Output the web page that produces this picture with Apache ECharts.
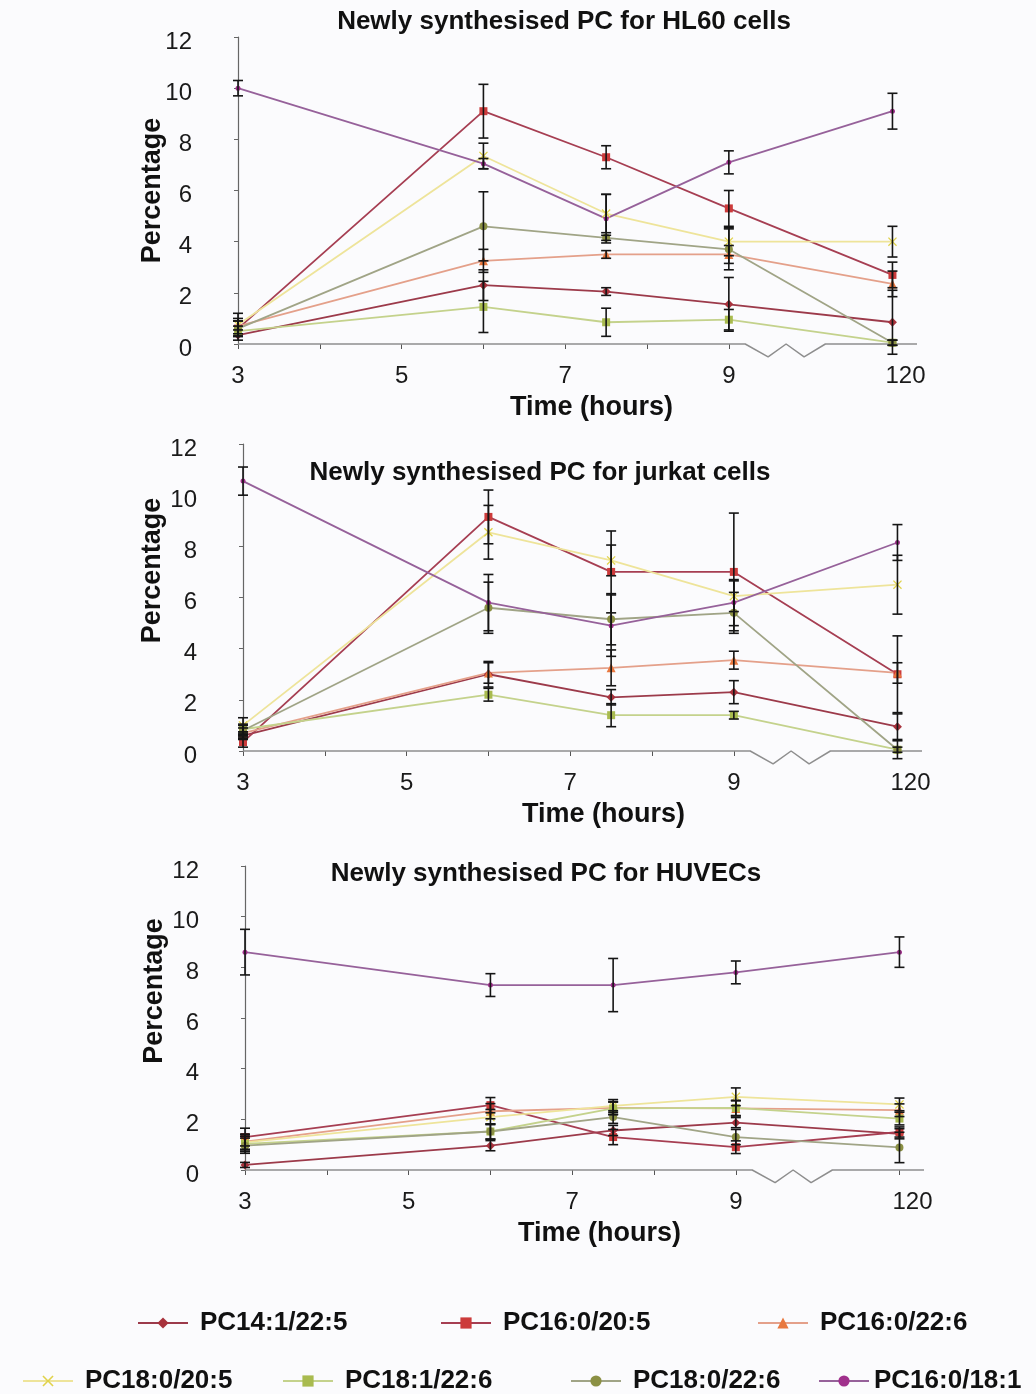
<!DOCTYPE html>
<html>
<head>
<meta charset="utf-8">
<script src="https://cdn.jsdelivr.net/npm/echarts@6/dist/echarts.min.js"></script>
<style>
  html, body { margin: 0; padding: 0; background: #fbfbfd; }
  #chart { width: 1036px; height: 1394px; }
</style>
</head>
<body>
<div id="chart"></div>
<script>
// Sampling times (hours); 120 h sits after the axis break
const times = [3, 6, 7.5, 9, 120];
const xTickValues = [3, 4, 5, 6, 7, 8, 9, 11];
const xLabelValues = [3, 5, 7, 9, 11];
const seriesNames = ['PC14:1/22:5', 'PC16:0/20:5', 'PC16:0/22:6', 'PC18:0/20:5', 'PC18:1/22:6', 'PC18:0/22:6', 'PC16:0/18:1'];
const panelTitles = ['Newly synthesised PC for HL60 cells', 'Newly synthesised PC for jurkat cells', 'Newly synthesised PC for HUVECs'];

// HL60 cells: mean % and error (±)
const hl60_PC14_1_22_5 = [0.35, 2.3, 2.05, 1.55, 0.85];
const hl60_PC16_0_20_5 = [0.6, 9.1, 7.3, 5.3, 2.7];
const hl60_PC16_0_22_6 = [0.7, 3.25, 3.5, 3.5, 2.35];
const hl60_PC18_0_20_5 = [0.75, 7.35, 5.1, 4.0, 4.0];
const hl60_PC18_1_22_6 = [0.5, 1.45, 0.85, 0.95, 0.05];
const hl60_PC18_0_22_6 = [0.6, 4.6, 4.15, 3.7, 0.05];
const hl60_PC16_0_18_1 = [10.0, 7.05, 4.9, 7.1, 9.1];
const hl60Err_PC14_1_22_5 = [0.2, 0.6, 0.15, 1.05, 1.25];
const hl60Err_PC16_0_20_5 = [0.3, 1.05, 0.45, 0.7, 0.5];
const hl60Err_PC16_0_22_6 = [0.3, 0.45, 0.15, 0.35, 0.5];
const hl60Err_PC18_0_20_5 = [0.45, 0.5, 0.75, 0.55, 0.6];
const hl60Err_PC18_1_22_6 = [0.2, 1.0, 0.55, 0.4, 0.1];
const hl60Err_PC18_0_22_6 = [0.3, 1.35, 0.1, 0.8, 0.1];
const hl60Err_PC16_0_18_1 = [0.3, 0.2, 0.95, 0.45, 0.7];

// Jurkat cells
const jurkat_PC14_1_22_5 = [0.6, 3.0, 2.1, 2.3, 0.95];
const jurkat_PC16_0_20_5 = [0.35, 9.15, 7.0, 7.0, 3.0];
const jurkat_PC16_0_22_6 = [0.7, 3.05, 3.25, 3.55, 3.05];
const jurkat_PC18_0_20_5 = [1.0, 8.55, 7.45, 6.05, 6.5];
const jurkat_PC18_1_22_6 = [0.85, 2.2, 1.4, 1.4, 0.05];
const jurkat_PC18_0_22_6 = [0.8, 5.6, 5.15, 5.4, 0.05];
const jurkat_PC16_0_18_1 = [10.55, 5.8, 4.9, 5.8, 8.15];
const jurkatErr_PC14_1_22_5 = [0.15, 0.5, 0.3, 0.45, 0.5];
const jurkatErr_PC16_0_20_5 = [0.2, 1.05, 1.6, 2.3, 1.5];
const jurkatErr_PC16_0_22_6 = [0.2, 0.4, 0.7, 0.35, 0.4];
const jurkatErr_PC18_0_20_5 = [0.3, 1.05, 0.6, 0.6, 1.15];
const jurkatErr_PC18_1_22_6 = [0.2, 0.25, 0.45, 0.15, 0.1];
const jurkatErr_PC18_0_22_6 = [0.2, 1.0, 1.0, 0.8, 0.35];
const jurkatErr_PC16_0_18_1 = [0.55, 1.1, 1.2, 0.9, 0.7];

// HUVECs
const huvec_PC14_1_22_5 = [0.2, 0.96, 1.56, 1.87, 1.43];
const huvec_PC16_0_20_5 = [1.3, 2.56, 1.3, 0.9, 1.5];
const huvec_PC16_0_22_6 = [1.12, 2.32, 2.45, 2.43, 2.36];
const huvec_PC18_0_20_5 = [1.09, 2.09, 2.53, 2.89, 2.59];
const huvec_PC18_1_22_6 = [1.03, 1.52, 2.43, 2.45, 2.03];
const huvec_PC18_0_22_6 = [0.96, 1.52, 2.09, 1.3, 0.89];
const huvec_PC16_0_18_1 = [8.6, 7.3, 7.3, 7.8, 8.6];
const huvecErr_PC14_1_22_5 = [0.1, 0.2, 0.2, 0.2, 0.2];
const huvecErr_PC16_0_20_5 = [0.35, 0.3, 0.3, 0.25, 0.2];
const huvecErr_PC16_0_22_6 = [0.3, 0.3, 0.25, 0.3, 0.25];
const huvecErr_PC18_0_20_5 = [0.3, 0.3, 0.25, 0.35, 0.25];
const huvecErr_PC18_1_22_6 = [0.3, 0.3, 0.25, 0.3, 0.25];
const huvecErr_PC18_0_22_6 = [0.3, 0.3, 0.25, 0.3, 0.6];
const huvecErr_PC16_0_18_1 = [0.9, 0.45, 1.05, 0.45, 0.6];

const panels = [
  { values: [hl60_PC14_1_22_5, hl60_PC16_0_20_5, hl60_PC16_0_22_6, hl60_PC18_0_20_5, hl60_PC18_1_22_6, hl60_PC18_0_22_6, hl60_PC16_0_18_1],
    errors: [hl60Err_PC14_1_22_5, hl60Err_PC16_0_20_5, hl60Err_PC16_0_22_6, hl60Err_PC18_0_20_5, hl60Err_PC18_1_22_6, hl60Err_PC18_0_22_6, hl60Err_PC16_0_18_1] },
  { values: [jurkat_PC14_1_22_5, jurkat_PC16_0_20_5, jurkat_PC16_0_22_6, jurkat_PC18_0_20_5, jurkat_PC18_1_22_6, jurkat_PC18_0_22_6, jurkat_PC16_0_18_1],
    errors: [jurkatErr_PC14_1_22_5, jurkatErr_PC16_0_20_5, jurkatErr_PC16_0_22_6, jurkatErr_PC18_0_20_5, jurkatErr_PC18_1_22_6, jurkatErr_PC18_0_22_6, jurkatErr_PC16_0_18_1] },
  { values: [huvec_PC14_1_22_5, huvec_PC16_0_20_5, huvec_PC16_0_22_6, huvec_PC18_0_20_5, huvec_PC18_1_22_6, huvec_PC18_0_22_6, huvec_PC16_0_18_1],
    errors: [huvecErr_PC14_1_22_5, huvecErr_PC16_0_20_5, huvecErr_PC16_0_22_6, huvecErr_PC18_0_20_5, huvecErr_PC18_1_22_6, huvecErr_PC18_0_22_6, huvecErr_PC16_0_18_1] }
];

// Broken time axis: the 120 h point is placed one slot after the break
function axisPos(t) { return t === 120 ? 11 : t; }
function xLabelText(v) { return v === 11 ? '{far|120}' : '{n|' + v + '}'; }
function yLabelText(v) { return '{n|' + v + '}'; }

// Baseline with the zig-zag break between 9 h and 120 h
const baselineX = [3, 9.2, 9.48, 9.7, 9.92, 10.18, 11.3];
const baselineY = [0, 0, -0.5, 0, -0.5, 0, 0];

const FONT = '"Liberation Sans", Arial, Helvetica, sans-serif';
const crossPath = 'path://M0,1L1,0L5,4L9,0L10,1L6,5L10,9L9,10L5,6L1,10L0,9L4,5Z';
const styles = [
  { line: '#9c3a4a', mark: '#a8323c', symbol: 'diamond', size: 9 },
  { line: '#a63e52', mark: '#cc3b3b', symbol: 'rect', size: 8 },
  { line: '#e4a08a', mark: '#e8783f', symbol: 'triangle', size: 9 },
  { line: '#eee49a', mark: '#e0d24a', symbol: crossPath, size: 9 },
  { line: '#c4d28c', mark: '#a9bb4f', symbol: 'rect', size: 8 },
  { line: '#a0a486', mark: '#8b9044', symbol: 'circle', size: 8 },
  { line: '#96619a', mark: '#a0308c', symbol: 'circle', size: 5 }
];

const gridBoxes = [
  { left: 238, top: 37, width: 679, height: 307, titleX: 559, titleY: 4, nameGap: 72, nameShift: 0, xNameShift: 28 },
  { left: 243, top: 444, width: 679, height: 307, titleX: 535, titleY: 455, nameGap: 77, nameShift: 54, xNameShift: 42 },
  { left: 245, top: 866, width: 679, height: 304, titleX: 541, titleY: 856, nameGap: 77, nameShift: 54, xNameShift: 30 }
];

const tickText = { fontFamily: FONT, fontSize: 24, color: '#1a1a1a' };
const grid = [], xAxis = [], yAxis = [], title = [], series = [];

gridBoxes.forEach((g, gi) => {
  grid.push({ left: g.left, top: g.top, width: g.width, height: g.height });
  title.push({
    text: panelTitles[gi], left: g.titleX, top: g.titleY, textAlign: 'center',
    textStyle: { fontFamily: FONT, fontSize: 26, fontWeight: 'bold', color: '#111' }
  });
  xAxis.push({
    type: 'value', gridIndex: gi, min: 3, max: 11.3,
    name: 'Time (hours)', nameLocation: 'middle', nameGap: 50,
    nameTextStyle: { fontFamily: FONT, fontSize: 27, fontWeight: 'bold', color: '#111', padding: [0, 0, 0, g.xNameShift] },
    axisLine: { show: false },
    axisTick: { show: true, length: 5, customValues: xTickValues, lineStyle: { color: '#555', width: 1 } },
    axisLabel: {
      customValues: xLabelValues, formatter: xLabelText, margin: 20,
      rich: { n: tickText, far: Object.assign({ padding: [0, 0, 0, 26] }, tickText) }
    },
    splitLine: { show: false }
  });
  yAxis.push({
    type: 'value', gridIndex: gi, min: 0, max: 12, interval: 2,
    name: 'Percentage', nameLocation: 'middle', nameGap: g.nameGap, nameRotate: 90,
    nameMoveOverlap: false,
    nameTextStyle: { fontFamily: FONT, fontSize: 27, fontWeight: 'bold', color: '#111', padding: [0, 0, 0, g.nameShift] },
    axisLine: { show: true, lineStyle: { color: '#666', width: 1.2 } },
    axisTick: { show: true, length: 4, lineStyle: { color: '#666' } },
    axisLabel: {
      margin: 46, formatter: yLabelText,
      rich: { n: Object.assign({ padding: [10, 0, 0, 0] }, tickText) }
    },
    splitLine: { show: false }
  });

  // x-axis baseline with break mark
  series.push({
    type: 'line', xAxisIndex: gi, yAxisIndex: gi, silent: true, clip: false,
    showSymbol: false, symbol: 'none', z: 1,
    lineStyle: { color: '#8e8e8e', width: 1.5 },
    data: baselineX.map((x, k) => [x, baselineY[k]])
  });

  const p = panels[gi];
  seriesNames.forEach((name, si) => {
    const st = styles[si];
    series.push({
      name, type: 'line', xAxisIndex: gi, yAxisIndex: gi, z: 3,
      symbol: st.symbol, symbolSize: st.size, showSymbol: true,
      lineStyle: { color: st.line, width: 1.8 },
      itemStyle: { color: st.mark, borderWidth: 0 },
      data: times.map((t, k) => [axisPos(t), p.values[si][k]])
    });
  });

  // Error bars (mean ± error) for every series of this panel
  const errData = [];
  seriesNames.forEach((name, si) => {
    times.forEach((t, k) => {
      const v = p.values[si][k], e = p.errors[si][k];
      if (e > 0) errData.push([axisPos(t), v - e, v + e]);
    });
  });
  series.push({
    type: 'custom', xAxisIndex: gi, yAxisIndex: gi, silent: true, clip: false, z: 4,
    data: errData,
    renderItem: function (params, api) {
      const x = api.value(0);
      const lo = api.coord([x, api.value(1)]);
      const hi = api.coord([x, api.value(2)]);
      const cap = 5;
      const style = { stroke: '#151515', lineWidth: 1.6, fill: null };
      return {
        type: 'group',
        children: [
          { type: 'line', shape: { x1: lo[0], y1: lo[1], x2: hi[0], y2: hi[1] }, style },
          { type: 'line', shape: { x1: lo[0] - cap, y1: lo[1], x2: lo[0] + cap, y2: lo[1] }, style },
          { type: 'line', shape: { x1: hi[0] - cap, y1: hi[1], x2: hi[0] + cap, y2: hi[1] }, style }
        ]
      };
    }
  });
});

// Legend: two rows, each entry placed on its own
const legendSpots = [
  { left: 132, top: 1305, gap: 7 }, { left: 435, top: 1305, gap: 7 }, { left: 752, top: 1305, gap: 7 },
  { left: 17, top: 1363, gap: 7 }, { left: 277, top: 1363, gap: 7 }, { left: 565, top: 1363, gap: 7 },
  { left: 813, top: 1363, gap: 0 }
];
const legend = seriesNames.map((name, i) => ({
  data: [name], left: legendSpots[i].left, top: legendSpots[i].top,
  itemWidth: 50, itemHeight: 14, selectedMode: false,
  textStyle: { fontFamily: FONT, fontSize: 26, fontWeight: 'bold', color: '#111', padding: [0, 0, 0, legendSpots[i].gap] }
}));

const chart = echarts.init(document.getElementById('chart'), null, { renderer: 'canvas' });
chart.setOption({
  backgroundColor: '#fbfbfd',
  animation: false,
  title, grid, xAxis, yAxis, legend, series
});
</script>
</body>
</html>
